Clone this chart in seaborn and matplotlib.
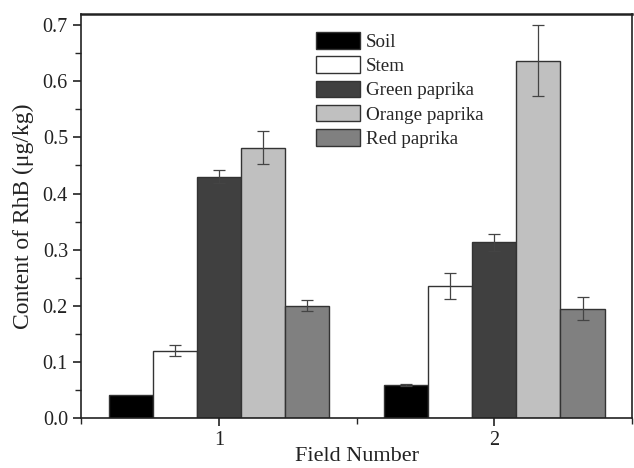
import matplotlib
matplotlib.use("Agg")
import matplotlib.pyplot as plt
from matplotlib.ticker import MultipleLocator
import seaborn as sns
import pandas as pd

fields = ["1", "2"]
samples = ["Soil", "Stem", "Green paprika", "Orange paprika", "Red paprika"]
values_f1 = [0.040, 0.120, 0.430, 0.482, 0.200]
values_f2 = [0.059, 0.235, 0.313, 0.637, 0.195]
errors_f1 = [0.0, 0.010, 0.012, 0.029, 0.010]
errors_f2 = [0.002, 0.023, 0.015, 0.063, 0.021]
colors = ["#000000", "#ffffff", "#404040", "#c0c0c0", "#808080"]

rows = []
for f, vals, errs in [(fields[0], values_f1, errors_f1), (fields[1], values_f2, errors_f2)]:
    for s, v, e in zip(samples, vals, errs):
        rows.append({"Field": f, "Sample": s, "Value": v, "Err": e})
df = pd.DataFrame(rows)

sns.set_theme(style="ticks")
plt.rcParams["font.family"] = ["Liberation Serif", "DejaVu Serif"]

fig = plt.figure(figsize=(6.34, 4.68), dpi=100)
ax = fig.add_axes([0.128, 0.107, 0.869, 0.863])

sns.barplot(data=df, x="Field", y="Value", hue="Sample", order=fields,
            hue_order=samples, palette=colors, width=0.8, errorbar=None,
            edgecolor="#333333", linewidth=1.0, saturation=1, ax=ax)

# error bars at bar centres
for cont, s in zip(ax.containers, samples):
    sub = df[df["Sample"] == s].set_index("Field").loc[fields]
    xs = [p.get_x() + p.get_width() / 2 for p in cont.patches]
    hs = [p.get_height() for p in cont.patches]
    errs = list(sub["Err"])
    for x, h, e in zip(xs, hs, errs):
        if e > 0:
            ax.errorbar(x, h, yerr=e, fmt="none", ecolor="#444444",
                        elinewidth=0.9, capsize=4, capthick=0.9)

ax.set_xlim(-0.5, 1.5)
ax.set_ylim(0, 0.72)
ax.yaxis.set_minor_locator(MultipleLocator(0.05))
ax.xaxis.set_minor_locator(MultipleLocator(0.5))
ax.set_yticks([0, 0.1, 0.2, 0.3, 0.4, 0.5, 0.6, 0.7])
ax.set_yticklabels(["0.0", "0.1", "0.2", "0.3", "0.4", "0.5", "0.6", "0.7"])
ax.tick_params(axis="both", which="major", direction="out", length=6, width=1.2,
               labelsize=14.5, colors="#222222")
ax.tick_params(axis="both", which="minor", direction="out", length=4, width=1.0)
for sp in ax.spines.values():
    sp.set_visible(True)
    sp.set_linewidth(1.2)
    sp.set_color("#222222")
ax.spines["top"].set_linewidth(1.8)

ax.set_xlabel("Field Number", fontsize=16, color="#222222", labelpad=-2)
ax.set_ylabel("Content of RhB (\u03bcg/kg)", fontsize=17, color="#222222", labelpad=6)

leg = ax.legend(loc="upper left", bbox_to_anchor=(0.427, 0.955), frameon=False,
                fontsize=13.7, handlelength=2.3, handleheight=0.95,
                labelspacing=0.29, handletextpad=0.3, borderaxespad=0,
                borderpad=0)

fig.savefig("out.png", dpi=100)
